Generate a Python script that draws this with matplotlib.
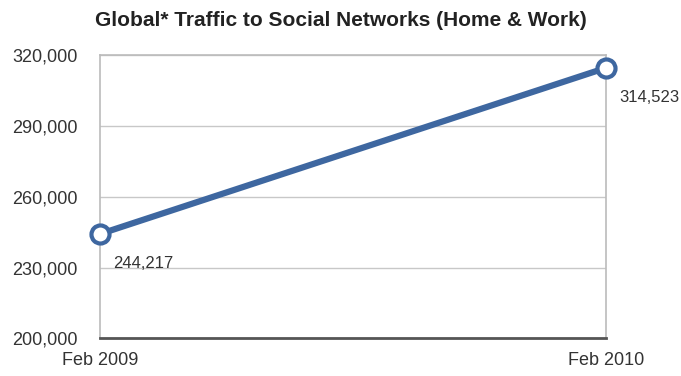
import matplotlib.pyplot as plt
from matplotlib.ticker import FuncFormatter

plt.rcParams['font.family'] = ['Liberation Sans', 'DejaVu Sans']

dates = ['Feb 2009', 'Feb 2010']
traffic = [244217, 314523]
y_ticks = [200000, 230000, 260000, 290000, 320000]

fig = plt.figure(figsize=(6.81, 3.76), dpi=100)
ax = fig.add_axes([0.147, 0.1, 0.743, 0.754])

x = list(range(len(dates)))
ax.plot(x, traffic, color='#3e67a0', lw=4.5, solid_capstyle='round', zorder=3,
        marker='o', markersize=13, markerfacecolor='white',
        markeredgecolor='#3e67a0', markeredgewidth=3, clip_on=False)

for xi, v in zip(x, traffic):
    ax.annotate(f"{v:,}", (xi, v), xytext=(9.5, -21), textcoords='offset points',
                ha='left', va='center', fontsize=12, color='#333333')

ax.set_xlim(0, 1)
ax.set_ylim(200000, 320000)
ax.set_yticks(y_ticks)
ax.yaxis.set_major_formatter(FuncFormatter(lambda v, p: f"{int(v):,}"))
ax.set_xticks(x)
ax.set_xticklabels(dates)
ax.tick_params(length=0, labelsize=13, colors='#333333')
ax.tick_params(axis='y', pad=16)
ax.tick_params(axis='x', pad=10)

ax.grid(axis='y', color='#c8c8c8', lw=1)
for s in ['left', 'right', 'top']:
    ax.spines[s].set_color('#bbbbbb')
    ax.spines[s].set_linewidth(1.2)
ax.spines['bottom'].set_color('#555555')
ax.spines['bottom'].set_linewidth(2)

fig.text(0.5, 0.945, 'Global* Traffic to Social Networks (Home & Work)',
         ha='center', va='center', fontsize=15, fontweight='bold', color='#222222')

fig.savefig('out.png', dpi=100)
